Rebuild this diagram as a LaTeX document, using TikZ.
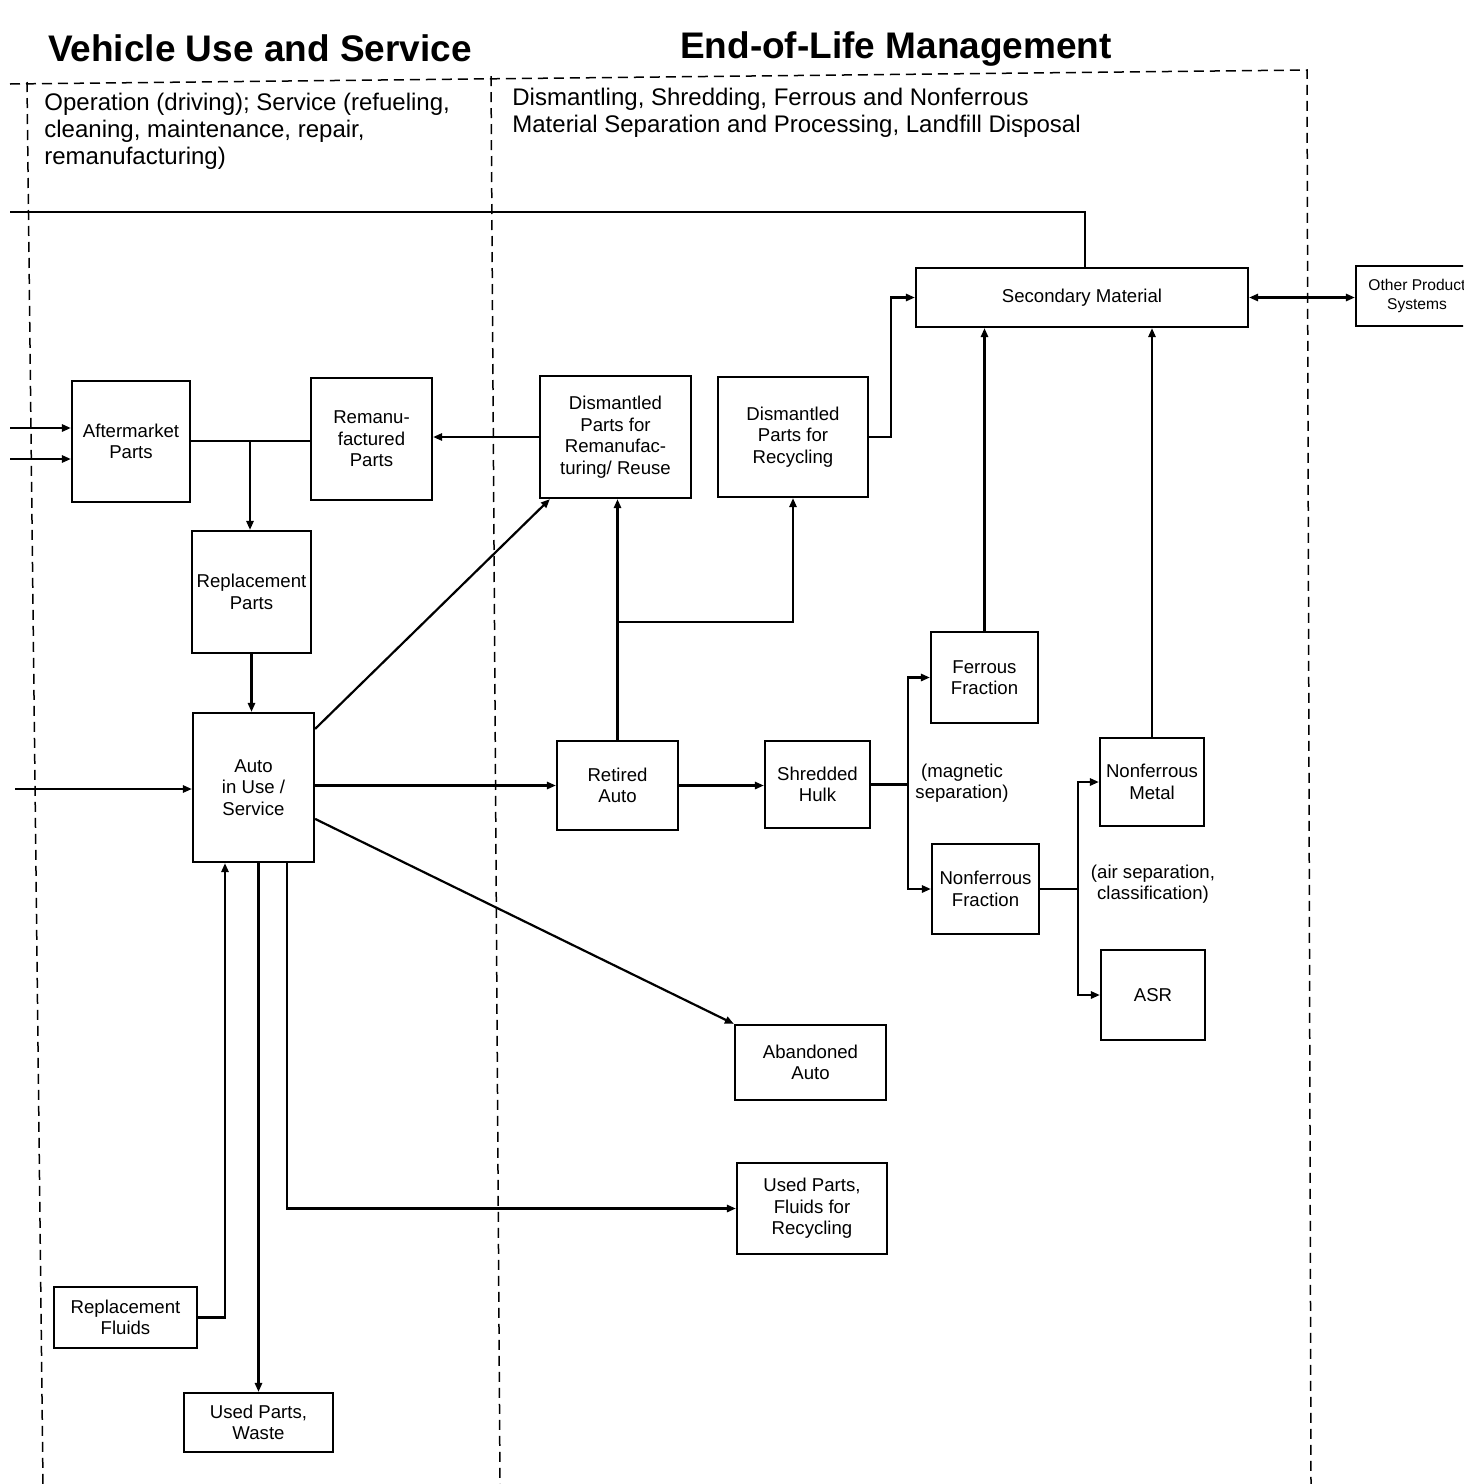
\documentclass[tikz,border=0pt]{standalone}
\usepackage{fontspec}
\setmainfont{Liberation Sans}
\usetikzlibrary{arrows.meta,calc}

\begin{document}
\begin{tikzpicture}[x=0.5pt,y=-0.5pt,
  box/.style={draw, line width=1.1pt, inner sep=0pt, align=center,
    font=\fontsize{9.3}{10.8}\selectfont},
  conn/.style={line width=1.1pt},
  arr/.style={conn, -{Triangle[length=4.5pt,width=3.6pt]}},
  frame/.style={line width=0.75pt, dash pattern=on 5pt off 3pt},
  note/.style={inner sep=0pt, align=center, font=\fontsize{9.3}{10.8}\selectfont},
  title/.style={inner sep=0pt, anchor=base, font=\bfseries\fontsize{18.5}{22}\selectfont},
  desc/.style={inner sep=0pt, align=left, anchor=north west,
    font=\fontsize{12}{13.4}\selectfont},
]
\useasboundingbox (0,0) rectangle (1463,1484);
\clip (0,0) rectangle (1463,1484);

% headings
\node[title] (t1) at (260,61) {Vehicle Use and Service};
\node[title] (t2) at (896,58) {End-of-Life Management};

% dashed stage frames
\draw[frame] (10,84) -- (1307,70) -- (1311,1484);
\draw[frame] (27,82) -- (43,1484);
\draw[frame] (491,76) -- (500,1484);

\node[desc] (d1) at (44,93) {Operation (driving); Service (refueling,\\cleaning, maintenance, repair,\\remanufacturing)};
\node[desc] (d2) at (512,88) {Dismantling, Shredding, Ferrous and Nonferrous\\Material Separation and Processing, Landfill Disposal};

% process boxes
\node[box, minimum width=166pt, minimum height=29.5pt] (sec) at (1082,297.5) {Secondary Material};
\node[box, minimum width=61pt, minimum height=30pt, font=\fontsize{7.8}{9.5}\selectfont] (oth) at (1417,296) {Other Product\\Systems};
\node[box, minimum width=59pt, minimum height=60.5pt] (aft) at (131,441.5) {Aftermarket\\Parts};
\node[box, minimum width=60.5pt, minimum height=61pt] (rem) at (371.5,439) {Remanu-\\factured\\Parts};
\node[box, minimum width=75.5pt, minimum height=61pt] (dpr) at (615.5,437) {Dismantled\\Parts for\\Remanufac-\\turing/ Reuse};
\node[box, minimum width=75pt, minimum height=60pt] (dpc) at (793,437) {Dismantled\\Parts for\\Recycling};
\node[box, minimum width=59.5pt, minimum height=61pt] (rpp) at (251.5,592) {Replacement\\Parts};
\node[box, minimum width=60.5pt, minimum height=74.5pt] (aiu) at (253.5,787.5) {Auto\\in Use /\\Service};
\node[box, minimum width=60.5pt, minimum height=44.5pt] (ret) at (617.5,785.5) {Retired\\Auto};
\node[box, minimum width=52.5pt, minimum height=43.5pt] (shr) at (817.5,784.5) {Shredded\\Hulk};
\node[box, minimum width=53.5pt, minimum height=45.5pt] (fer) at (984.5,677.5) {Ferrous\\Fraction};
\node[box, minimum width=53.5pt, minimum height=45pt] (nff) at (985.5,889) {Nonferrous\\Fraction};
\node[box, minimum width=52pt, minimum height=44pt] (nfm) at (1152,782) {Nonferrous\\Metal};
\node[box, minimum width=52pt, minimum height=45pt] (asr) at (1153,995) {ASR};
\node[box, minimum width=75.5pt, minimum height=37.5pt] (aba) at (810.5,1062.5) {Abandoned\\Auto};
\node[box, minimum width=75pt, minimum height=45.5pt] (upf) at (812,1208.5) {Used Parts,\\Fluids for\\Recycling};
\node[box, minimum width=71.5pt, minimum height=30.5pt] (rfl) at (125.5,1317.5) {Replacement\\Fluids};
\node[box, minimum width=74.5pt, minimum height=29.5pt] (upw) at (258.5,1422.5) {Used Parts,\\Waste};

% separation notes
\node[note] (mag) at (962,783) {(magnetic\\separation)};
\node[note] (air) at (1153,884) {(air separation,\\classification)};

% free ends and junctions
\coordinate (inA) at (10,428);
\coordinate (inB) at (10,459);
\coordinate (inC) at (15,789);
\coordinate (back) at (10,212);
\coordinate (j1) at (250,441);
\coordinate (j2) at (617.5,622);
\coordinate (j3) at (908,784.5);
\coordinate (j4) at (1078,889);
\coordinate (b1) at (225,0);
\coordinate (b3) at (287,0);

% flows on the use side
\draw[arr, line width=1.4pt] (inA) -- (inA -| aft.west);
\draw[arr] (inB) -- (inB -| aft.west);
\draw[conn] (aft.east |- j1) -- (j1 -| rem.west);
\draw[arr] (j1) -- (j1 |- rpp.north);
\draw[arr] (dpr.west) -- (dpr.west -| rem.east);
\draw[arr] (rpp.south) -- (rpp.south |- aiu.north);
\draw[arr] (inC) -- (inC -| aiu.west);
\draw[arr] ($(aiu.north east)+(0,17)$) -- ($(dpr.south west)+(11,0)$);
\draw[arr] (aiu.east |- ret.west) -- (ret.west);
\draw[arr] ($(aiu.north east)+(0,107)$) -- (aba.north west);
\draw[arr] (rfl.east) -| (b1 |- aiu.south);
\draw[arr] (aiu.south -| upw.north) -- (upw.north);
\draw[arr] (aiu.south -| b3) |- (upf.west);

% end-of-life flows
\draw[arr] (ret.north) -- (ret.north |- dpr.south);
\draw[arr] (j2) -| (dpc.south);
\draw[arr] (dpc.east) -- ++(22,0) |- (sec.west);
\draw[arr] (ret.east) -- (ret.east -| shr.west);
\draw[conn] (shr.east) -- (j3);
\draw[arr] (j3) |- (fer.west);
\draw[arr] (j3) |- (nff.west);
\draw[arr] (fer.north) -- (fer.north |- sec.south);
\draw[conn] (nff.east) -- (j4);
\draw[arr] (j4) |- (nfm.west);
\draw[arr] (j4) |- (asr.west);
\draw[arr] (nfm.north) -- (nfm.north |- sec.south);
\draw[conn, {Triangle[length=4.5pt,width=3.6pt]}-{Triangle[length=4.5pt,width=3.6pt]}] (sec.east) -- (sec.east -| oth.west);
\draw[conn] ($(sec.north)+(3,0)$) |- (back);

\end{tikzpicture}
\end{document}
